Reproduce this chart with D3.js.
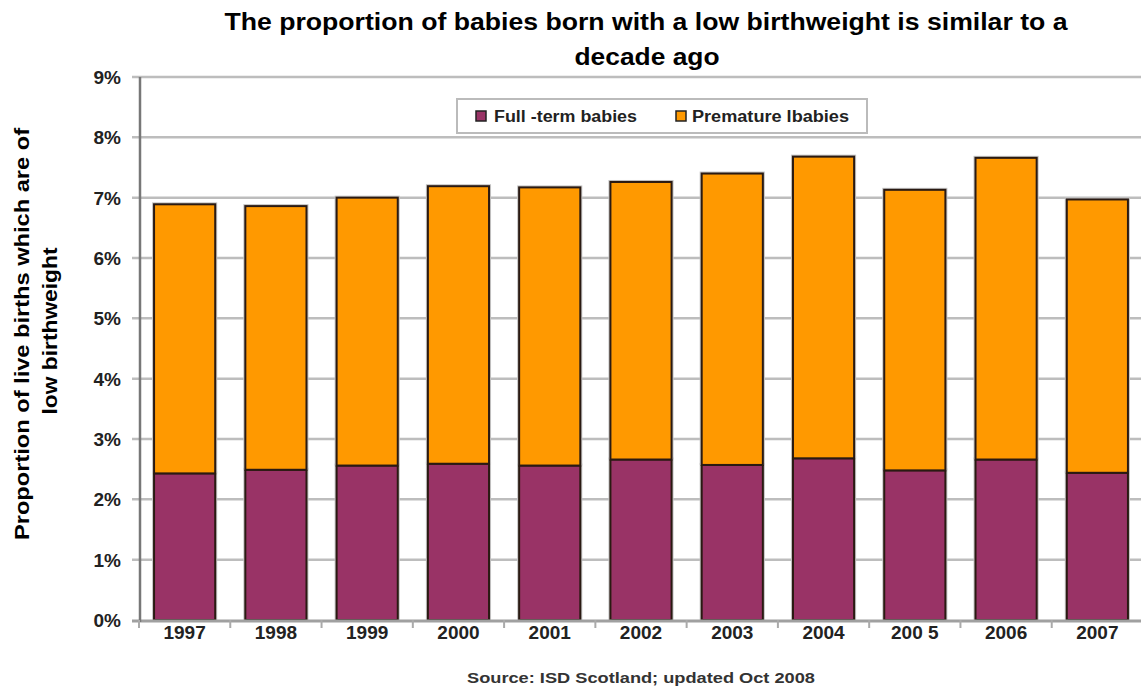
<!DOCTYPE html>
<html>
<head>
<meta charset="utf-8">
<script src="https://cdn.jsdelivr.net/npm/d3@7"></script>
<style>
  body { margin: 0; background: #fff; }
  svg { display: block; font-family: Arial, "Liberation Sans", sans-serif; }
</style>
</head>
<body>
<svg width="1141" height="691"></svg>
<script>
var svg = d3.select('svg');

// data
var years = ['1997', '1998', '1999', '2000', '2001', '2002', '2003', '2004', '2005', '2006', '2007'];
var yearLabels = ['1997', '1998', '1999', '2000', '2001', '2002', '2003', '2004', '200 5', '2006', '2007'];
var fullTerm = [2.43, 2.49, 2.56, 2.59, 2.56, 2.66, 2.57, 2.68, 2.48, 2.66, 2.44];
var premature = [4.46, 4.37, 4.44, 4.60, 4.61, 4.60, 4.83, 5.00, 4.65, 5.00, 4.53];
var yTicks = [0, 1, 2, 3, 4, 5, 6, 7, 8, 9];
var seriesNames = ['Full -term babies', 'Premature lbabies'];
var colors = ['#993366', '#ff9900'];

var table = years.map(function (y, i) {
  return { year: y, full: fullTerm[i], prem: premature[i] };
});
var stacked = d3.stack().keys(['full', 'prem'])(table);

var x = d3.scaleBand().domain(years).range([139, 1143]).paddingInner(0.33).paddingOuter(0.165);
var y = d3.scaleLinear().domain([0, 9]).range([620, 77]);

// gridlines
svg.append('g')
  .selectAll('line')
  .data(yTicks.slice(1))
  .enter()
  .append('line')
  .attr('x1', 132)
  .attr('x2', 1141)
  .attr('y1', function (d) { return y(d); })
  .attr('y2', function (d) { return y(d); })
  .attr('stroke', '#bdbdbd')
  .attr('stroke-width', 2.5);

// bars
var groups = svg.append('g')
  .selectAll('g')
  .data(stacked)
  .enter()
  .append('g')
  .attr('fill', function (d, i) { return colors[i]; });

groups.selectAll('rect.halo')
  .data(function (d) { return d; })
  .enter()
  .append('rect')
  .attr('x', function (d) { return x(d.data.year) - 2; })
  .attr('y', function (d) { return y(d[1]) - 2; })
  .attr('width', x.bandwidth() + 4)
  .attr('height', function (d) { return y(d[0]) - y(d[1]) + 2; })
  .attr('fill', '#c4c4c4');

groups.selectAll('rect.bar')
  .data(function (d) { return d; })
  .enter()
  .append('rect')
  .attr('x', function (d) { return x(d.data.year); })
  .attr('y', function (d) { return y(d[1]); })
  .attr('width', x.bandwidth())
  .attr('height', function (d) { return y(d[0]) - y(d[1]); })
  .attr('stroke', '#2a1a12')
  .attr('stroke-width', 2);

// axes
svg.append('line')
  .attr('x1', 132).attr('x2', 1141)
  .attr('y1', y(0) + 1).attr('y2', y(0) + 1)
  .attr('stroke', '#a0a0a0').attr('stroke-width', 3);

svg.append('line')
  .attr('x1', 140).attr('x2', 140)
  .attr('y1', y(9)).attr('y2', y(0) + 2)
  .attr('stroke', '#777').attr('stroke-width', 2.5);

// x ticks between categories
svg.append('g')
  .selectAll('line')
  .data(years)
  .enter()
  .append('line')
  .attr('x1', function (d) { return x(d) - x.step() * x.paddingInner() / 2; })
  .attr('x2', function (d) { return x(d) - x.step() * x.paddingInner() / 2; })
  .attr('y1', y(0))
  .attr('y2', y(0) + 8)
  .attr('stroke', '#aaa')
  .attr('stroke-width', 2);

// y tick labels
svg.append('g')
  .selectAll('text')
  .data(yTicks)
  .enter()
  .append('text')
  .attr('x', 121)
  .attr('y', function (d) { return y(d) + 7; })
  .attr('text-anchor', 'end')
  .attr('font-size', 19)
  .attr('font-weight', 'bold')
  .attr('fill', '#222')
  .text(function (d) { return d + '%'; });

// x tick labels
svg.append('g')
  .selectAll('text')
  .data(years)
  .enter()
  .append('text')
  .attr('x', function (d) { return x(d) + x.bandwidth() / 2; })
  .attr('y', 639)
  .attr('text-anchor', 'middle')
  .attr('font-size', 19)
  .attr('font-weight', 'bold')
  .attr('fill', '#222')
  .text(function (d, i) { return yearLabels[i]; });

// title
svg.append('text')
  .attr('x', 646).attr('y', 30)
  .attr('text-anchor', 'middle')
  .attr('font-size', 23).attr('font-weight', 'bold')
  .attr('textLength', 843).attr('lengthAdjust', 'spacingAndGlyphs')
  .text('The proportion of babies born with a low birthweight is similar to a');
svg.append('text')
  .attr('x', 647).attr('y', 65)
  .attr('text-anchor', 'middle')
  .attr('font-size', 23).attr('font-weight', 'bold')
  .attr('textLength', 145).attr('lengthAdjust', 'spacingAndGlyphs')
  .text('decade ago');

// y axis title
var yt = svg.append('g').attr('transform', 'translate(0,334) rotate(-90)');
yt.append('text')
  .attr('x', 0).attr('y', 29)
  .attr('text-anchor', 'middle')
  .attr('font-size', 20).attr('font-weight', 'bold')
  .attr('textLength', 412).attr('lengthAdjust', 'spacingAndGlyphs')
  .text('Proportion of live births which are of');
yt.append('text')
  .attr('x', 3).attr('y', 57)
  .attr('text-anchor', 'middle')
  .attr('font-size', 20).attr('font-weight', 'bold')
  .attr('textLength', 167).attr('lengthAdjust', 'spacingAndGlyphs')
  .text('low birthweight');

// source
svg.append('text')
  .attr('x', 641).attr('y', 683)
  .attr('text-anchor', 'middle')
  .attr('font-size', 15).attr('font-weight', 'bold')
  .attr('fill', '#333')
  .attr('textLength', 348).attr('lengthAdjust', 'spacingAndGlyphs')
  .text('Source: ISD Scotland;  updated Oct 2008');

// legend
var legend = svg.append('g');
legend.append('rect')
  .attr('x', 457).attr('y', 99)
  .attr('width', 410).attr('height', 34)
  .attr('fill', '#fff')
  .attr('stroke', '#bbb').attr('stroke-width', 2);

var legendWidths = [143, 157];
var items = legend.selectAll('g')
  .data(seriesNames)
  .enter()
  .append('g')
  .attr('transform', function (d, i) { return 'translate(' + (476 + i * 200) + ',116)'; });

items.append('rect')
  .attr('x', 0).attr('y', -5)
  .attr('width', 10).attr('height', 10)
  .attr('fill', function (d, i) { return colors[i]; })
  .attr('stroke', '#222').attr('stroke-width', 1.5);

items.append('text')
  .attr('x', function (d, i) { return i ? 16 : 18; })
  .attr('y', 6)
  .attr('font-size', 16).attr('font-weight', 'bold')
  .attr('fill', '#222')
  .attr('textLength', function (d, i) { return legendWidths[i]; })
  .attr('lengthAdjust', 'spacingAndGlyphs')
  .text(function (d) { return d; });
</script>
</body>
</html>
